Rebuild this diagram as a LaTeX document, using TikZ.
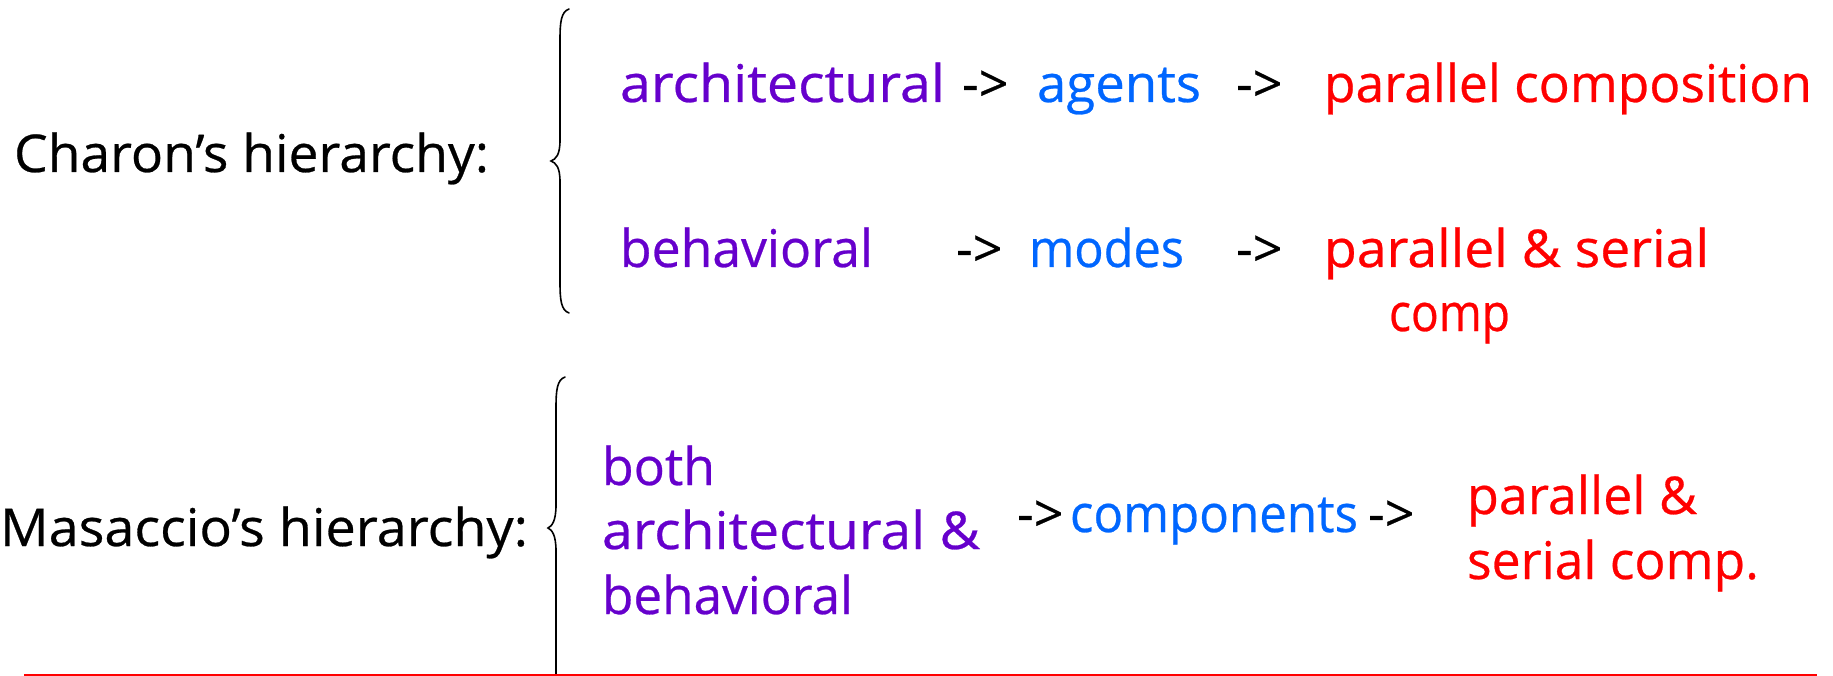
\documentclass[tikz,border=0pt]{standalone}
\usepackage{fontspec}
\setmainfont[FakeBold=0.5]{Open Sans}
\definecolor{purp}{HTML}{6600CC}
\definecolor{blu}{HTML}{0066FF}
\definecolor{rd}{HTML}{FF0000}
% set a line of text to a given width (in pt), keeping its height
\newsavebox\fitbox
\newcommand\fitto[2]{\sbox\fitbox{#2}\pgfmathsetmacro\fitratio{#1/\wd\fitbox}\scalebox{\fitratio}[1]{\usebox\fitbox}}
\begin{document}
\begin{tikzpicture}[x=1pt,y=-1pt,
  txt/.style={anchor=base west,inner sep=0pt,outer sep=0pt,font=\fontsize{52}{64}\selectfont},
  lbl/.style={txt,text=black},
  src/.style={txt,text=purp},
  mid/.style={txt,text=blu},
  dst/.style={txt,text=rd},
  arr/.style={txt,text=black},
  bracepath/.style={draw=black,line width=1.6pt,line cap=round}]
\useasboundingbox (0,0) rectangle (1833,676);

% Charon
\node[lbl] (ch) at (14,172) {\fitto{475}{Charon’s hierarchy:}};
\node[src] (ca) at (620,102) {\fitto{325}{architectural}};
\node[arr] (ca1) at (962,102) {->};
\node[mid] (cg) at (1037,102) {\fitto{164}{agents}};
\node[arr] (ca2) at (1236,102) {->};
\node[dst] (cp) at (1324,102) {\fitto{488}{parallel composition}};
\node[src] (cb) at (620,267) {\fitto{253}{behavioral}};
\node[arr] (cb1) at (956,267) {->};
\node[mid] (cm) at (1029,267) {\fitto{155}{modes}};
\node[arr] (cb2) at (1236,267) {->};
\node[dst] (cs) at (1324,267) {\fitto{385}{parallel \& serial}};
\node[dst] (cs2) at (1389,331) {\fitto{121}{comp}};

% Masaccio
\node[lbl] (ma) at (0,546) {\fitto{528}{Masaccio’s hierarchy:}};
\node[src] (mb1) at (602,485) {\fitto{113}{both}};
\node[src] (mb2) at (602,549) {\fitto{378}{architectural \&}};
\node[src] (mb3) at (602,614) {\fitto{251}{behavioral}};
\node[arr] (mr1) at (1017,532) {->};
\node[mid] (mc) at (1070,532) {\fitto{288}{components}};
\node[arr] (mr2) at (1368,532) {->};
\node[dst] (mp1) at (1467,514) {\fitto{230}{parallel \&}};
\node[dst] (mp2) at (1467,579) {\fitto{292}{serial comp.}};

% braces
\draw[bracepath] (569,9) .. controls (561,12) and (560,22) .. (560,40)
  -- (560,140) .. controls (560,155) and (556,159) .. (551,161)
  .. controls (556,163) and (560,167) .. (560,182)
  -- (560,282) .. controls (560,300) and (561,310) .. (569,313);
\draw[bracepath] (565,377) .. controls (557,380) and (556,390) .. (556,408)
  -- (556,505) .. controls (556,521) and (552,526) .. (548,528)
  .. controls (552,530) and (556,535) .. (556,551)
  -- (556,676);

% base rule
\draw[rd,line width=1.6pt] (24,675) -- (1817,675);
\end{tikzpicture}
\end{document}
